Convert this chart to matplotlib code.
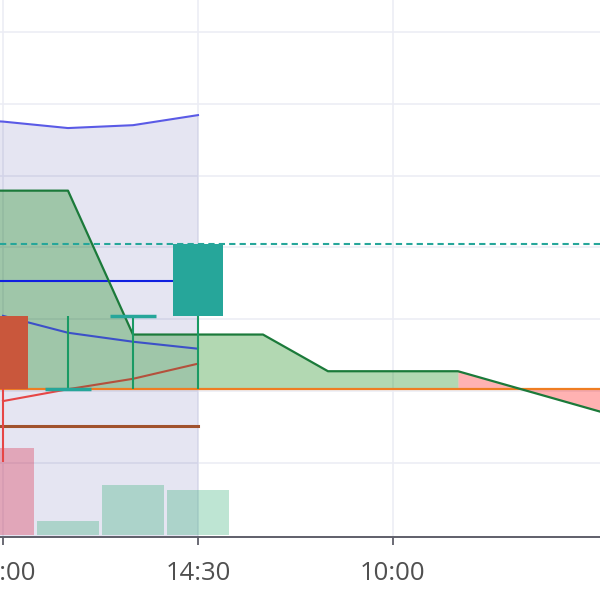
import matplotlib
matplotlib.use('Agg')
import matplotlib.pyplot as plt

# x is bar index, one tick every 3 bars
tick_pos = [0, 3, 6]
tick_labels = ['14:00', '14:30', '10:00']

# shaded zone (upper edge line)
zone_x = [-1, 0, 1, 2, 3]
zone_top = [5.80, 5.75, 5.66, 5.70, 5.84]

# trade line vs entry level
trade_x = [-1, 1, 2, 4, 5, 7, 10]
trade_y = [4.79, 4.79, 2.79, 2.79, 2.28, 2.28, 1.51]
entry_level = 2.03
profit_end = 7

# candles
candle_x = [0, 1, 2, 3]
c_open = [3.05, 2.03, 3.05, 3.05]
c_close = [2.03, 2.03, 3.05, 4.05]
c_high = [3.05, 3.05, 3.05, 4.05]
c_low = [1.02, 2.03, 2.03, 2.03]

# volume
vol_x = [0, 1, 2, 3]
vol = [1.21, 0.20, 0.70, 0.63]

# indicator lines
mid_x = [0, 1, 2, 3]
mid_y = [3.05, 2.815, 2.69, 2.593]
low_red_x = [0, 1]
low_red_y = [1.865, 2.03]
low_brown_x = [1, 2, 3]
low_brown_y = [2.03, 2.175, 2.385]

# horizontal levels
target_level = 4.05
blue_level = 3.537
stop_level = 1.52
level_x = [-1, 3]

fig = plt.figure(figsize=(6, 6), dpi=100)
ax = fig.add_axes([0, 63 / 600, 1, 537 / 600])
ax.set_xlim(-0.046, 9.185)
ax.set_ylim(-0.024, 7.44)

# grid
ax.set_axisbelow(True)
for y in range(1, 8):
    ax.axhline(y, color='#ecedf5', lw=1.2, zorder=0)
for x in tick_pos:
    ax.axvline(x, color='#ecedf5', lw=1.2, zorder=0)

# shaded zone
ax.fill_between(zone_x, zone_top, -1, color='#000080', alpha=0.1, lw=0, zorder=1)
ax.plot(zone_x, zone_top, color='#5a5ae6', lw=1.5, zorder=6)

# trade fill
where_g = [x <= profit_end for x in trade_x]
where_r = [x >= profit_end for x in trade_x]
ax.fill_between(trade_x, trade_y, entry_level, where=where_g, color='green', alpha=0.3, lw=0, zorder=2)
ax.fill_between(trade_x, trade_y, entry_level, where=where_r, color='red', alpha=0.3, lw=0, zorder=2)
ax.plot(trade_x, trade_y, color='#1b7a3a', lw=1.6, zorder=7)

# volume bars
vol_colors = [(0.86, 0.2, 0.31, 0.35)] + [(0.16, 0.67, 0.43, 0.3)] * 3
ax.bar(vol_x, vol, width=0.96, color=vol_colors, zorder=3)

# levels
ax.axhline(target_level, color='#26a69a', lw=1.5, ls=(0, (3, 2)), zorder=5)
ax.axhline(entry_level, color='#ef7d22', lw=1.6, zorder=5)
ax.plot(level_x, [blue_level] * 2, color='#1020e0', lw=1.5, zorder=6)
ax.plot(level_x, [stop_level] * 2, color='#a0522d', lw=2.2, zorder=6)

# indicators
ax.plot(mid_x, mid_y, color='#3c50c8', lw=1.5, zorder=6)
ax.plot(low_red_x, low_red_y, color='#e64646', lw=1.5, zorder=6)
ax.plot(low_brown_x, low_brown_y, color='#b4503c', lw=1.5, zorder=6)

# candles
for x, o, c, h, l in zip(candle_x, c_open, c_close, c_high, c_low):
    if c < o:
        ax.vlines(x, l, h, color='#e64646', lw=1.5, zorder=8)
        ax.bar(x, o - c, bottom=c, width=0.78, color='#c9573c', zorder=9)
    elif c > o:
        ax.vlines(x, l, h, color='#1a9a64', lw=1.5, zorder=8)
        ax.bar(x, c - o, bottom=o, width=0.78, color='#26a69a', zorder=9)
    else:
        ax.vlines(x, l, h, color='#1a9a64', lw=1.5, zorder=8)
        ax.hlines(o, x - 0.36, x + 0.36, color='#26a69a', lw=2.5, zorder=9)

ax.set_xticks(tick_pos)
ax.set_xticklabels(tick_labels, fontfamily='Open Sans', fontsize=18.5, color='#505050')
ax.set_yticks([])
for s in ['top', 'right', 'left']:
    ax.spines[s].set_visible(False)
ax.spines['bottom'].set_color('#5f5f6a')
ax.spines['bottom'].set_linewidth(1.4)
ax.tick_params(axis='x', length=6, width=1.3, color='#5f5f6a', pad=11)

plt.savefig('out.png', dpi=100)
